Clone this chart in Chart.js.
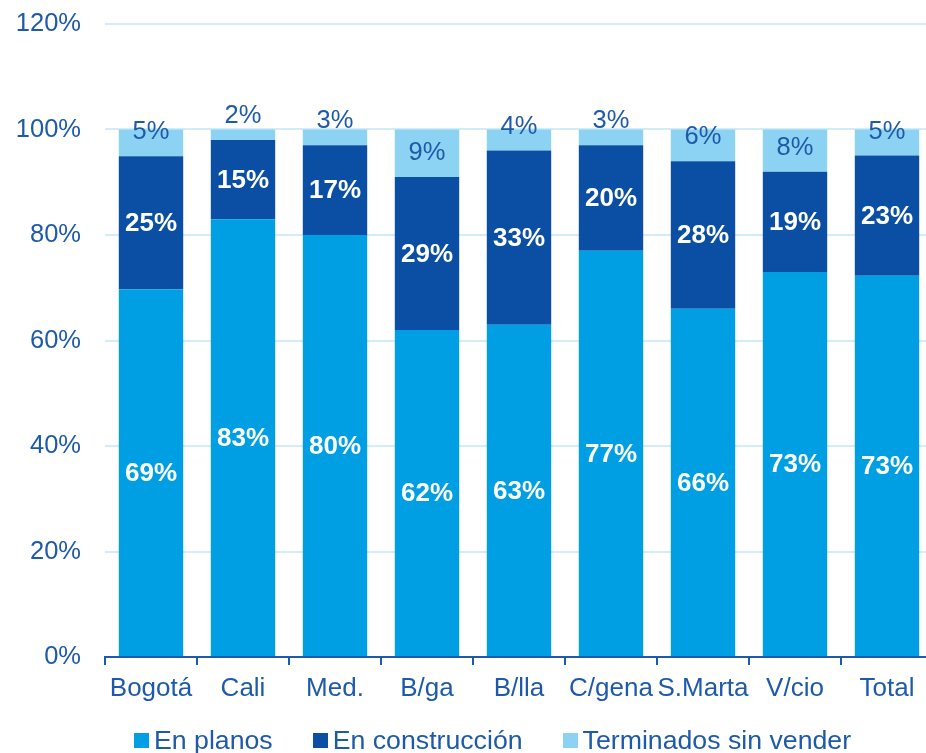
<!DOCTYPE html>
<html>
<head>
<meta charset="utf-8">
<script src="https://cdn.jsdelivr.net/npm/chart.js@4"></script>
<style>
    html, body { margin: 0; padding: 0; background: #fff; overflow: hidden; }
    #wrap { position: relative; width: 933px; height: 753px; }
    #legend {
        position: absolute; left: 134px; top: 725px;
        display: flex; align-items: center;
        font: 26.7px 'Liberation Sans', Arial, sans-serif; color: #1E5AAA;
        white-space: nowrap;
    }
    #legend span.box { display: inline-block; width: 15px; height: 15px; margin-right: 5px; }
    #legend span.item { display: inline-flex; align-items: center; margin-right: 40px; }
</style>
</head>
<body>
<div id="wrap">
    <canvas id="chart" width="933" height="753"></canvas>
    <div id="legend"></div>
</div>
<script>
const categories = ['Bogotá', 'Cali', 'Med.', 'B/ga', 'B/lla', 'C/gena', 'S.Marta', 'V/cio', 'Total'];
const enPlanos = [69, 83, 80, 62, 63, 77, 66, 73, 73];
const enConstruccion = [25, 15, 17, 29, 33, 20, 28, 19, 23];
const terminados = [5, 2, 3, 9, 4, 3, 6, 8, 5];
const yTicks = [0, 20, 40, 60, 80, 100, 120];

const FONT = "'Liberation Sans', Arial, sans-serif";
const TEXT = '#1E5AAA';
const colors = ['#009FE3', '#0A4FA3', '#8CD2F2'];
const names = ['En planos', 'En construcción', 'Terminados sin vender'];
const raw = [enPlanos, enConstruccion, terminados];

// bars are 100% stacked: each column scaled to its own total
const totals = categories.map((_, i) => raw.reduce((s, arr) => s + arr[i], 0));
const share = (arr) => arr.map((v, i) => v / totals[i] * 100);

const labelPlugin = {
    id: 'segLabels',
    afterDatasetsDraw(chart) {
        const ctx = chart.ctx;
        ctx.save();
        ctx.textAlign = 'center';
        chart.data.datasets.forEach((ds, di) => {
            const meta = chart.getDatasetMeta(di);
            meta.data.forEach((bar, i) => {
                const txt = raw[di][i] + '%';
                if (di < 2) {
                    ctx.font = 'bold 26px ' + FONT;
                    ctx.fillStyle = '#ffffff';
                    ctx.textBaseline = 'middle';
                    ctx.fillText(txt, bar.x, (bar.y + bar.base) / 2 + 1);
                } else {
                    ctx.font = '25.5px ' + FONT;
                    ctx.fillStyle = TEXT;
                    ctx.textBaseline = 'alphabetic';
                    ctx.fillText(txt, bar.x, bar.base - 17);
                }
            });
        });
        ctx.restore();
    },
};

new Chart(document.getElementById('chart'), {
    type: 'bar',
    data: {
        labels: categories,
        datasets: raw.map((arr, k) => ({
            label: names[k],
            data: share(arr),
            backgroundColor: colors[k],
            borderWidth: 0,
            barPercentage: 0.7,
            categoryPercentage: 1,
        })),
    },
    options: {
        responsive: false,
        animation: false,
        layout: { padding: { top: 24, left: 0, right: 0, bottom: 0 } },
        plugins: { legend: { display: false }, tooltip: { enabled: false } },
        scales: {
            x: {
                stacked: true,
                offset: true,
                grid: { display: true, drawOnChartArea: false, offset: true, color: TEXT, lineWidth: 2, tickLength: 8 },
                border: { display: true, color: TEXT, width: 2 },
                ticks: { color: TEXT, font: { size: 26, family: FONT }, padding: 8, maxRotation: 0, autoSkip: false },
                afterFit: (s) => { s.height = 96; },
            },
            y: {
                stacked: true,
                min: 0,
                max: 120,
                afterBuildTicks: (s) => { s.ticks = yTicks.map((v) => ({ value: v })); },
                grid: { color: '#D3EDF8', lineWidth: 2, drawTicks: false },
                border: { display: false },
                ticks: { color: TEXT, font: { size: 25.5, family: FONT }, padding: 24, callback: (v) => v + '%' },
                afterFit: (s) => { s.width = 105; s.paddingTop = 0; s.paddingBottom = 0; },
            },
        },
    },
    plugins: [labelPlugin],
});

const legend = document.getElementById('legend');
names.forEach((n, k) => {
    const item = document.createElement('span');
    item.className = 'item';
    item.innerHTML = '<span class="box" style="background:' + colors[k] + '"></span>' + n;
    legend.appendChild(item);
});
</script>
</body>
</html>
